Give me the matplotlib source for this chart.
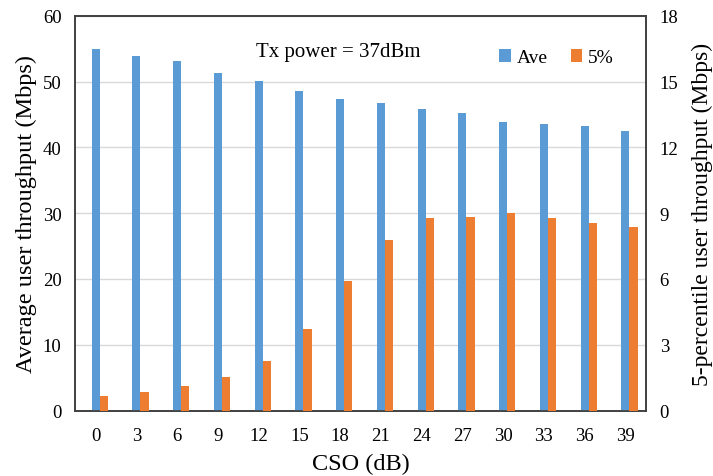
import numpy as np
import matplotlib
matplotlib.use("Agg")
import matplotlib.pyplot as plt

plt.rcParams['font.family'] = ['Liberation Serif', 'DejaVu Serif']

cso = [0, 3, 6, 9, 12, 15, 18, 21, 24, 27, 30, 33, 36, 39]
ave = [55.0, 53.9, 53.2, 51.3, 50.1, 48.6, 47.3, 46.7, 45.9, 45.2, 43.9, 43.6, 43.2, 42.5]
pct5 = [0.65, 0.83, 1.1, 1.55, 2.28, 3.7, 5.9, 7.77, 8.77, 8.85, 9.02, 8.77, 8.57, 8.37]

blue = '#5B9BD5'
orange = '#ED7D31'

fig = plt.figure(figsize=(7.13, 4.77), dpi=100)
ax = fig.add_axes([0.1056, 0.1373, 0.8, 0.8271])
ax2 = ax.twinx()

x = np.arange(len(cso))
w = 0.2
b1 = ax.bar(x, ave, width=w, color=blue, label='Ave', zorder=3)
b2 = ax2.bar(x + w, pct5, width=w, color=orange, label='5%', zorder=3)

ax.set_xlim(-0.5, len(cso) - 0.5)
ax.set_ylim(0, 60)
ax.set_yticks(range(0, 61, 10))
ax2.set_ylim(0, 18)
ax2.set_yticks(range(0, 19, 3))
ax.set_xticks(x)
ax.set_xticklabels([str(c) for c in cso])

ax.grid(axis='y', color='#d9d9d9', linewidth=1, zorder=0)
ax.set_axisbelow(True)

for a in (ax, ax2):
    for s in a.spines.values():
        s.set_color('#404040')
        s.set_linewidth(1.2)
    a.tick_params(length=0, labelsize=13.5, pad=10)
ax.tick_params(axis='x', pad=12)

ax.set_xlabel('CSO (dB)', fontsize=17.5, labelpad=6)
ax.set_ylabel('Average user throughput (Mbps)', fontsize=17.5, labelpad=4)
ax2.set_ylabel('5-percentile user throughput (Mbps)', fontsize=17, labelpad=10)

ax.text(0.317, 0.91, 'Tx power = 37dBm', transform=ax.transAxes,
        fontsize=15, va='center', ha='left')

ax2.legend([b1, b2], ['Ave', '5%'], ncol=2, frameon=False, fontsize=14,
           loc='upper right', bbox_to_anchor=(0.975, 0.96),
           handlelength=0.6, handleheight=0.6, handletextpad=0.3,
           columnspacing=1.2)

fig.savefig('out.png', dpi=100)
